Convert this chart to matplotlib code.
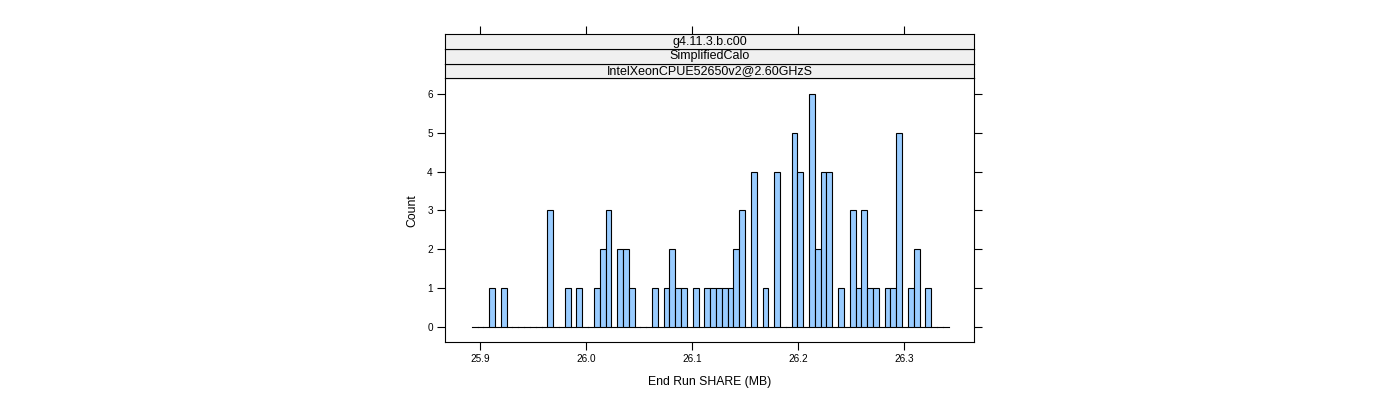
import numpy as np
import matplotlib
matplotlib.use("Agg")
import matplotlib.pyplot as plt

plt.rcParams['font.family'] = ['Liberation Sans', 'DejaVu Sans']

# Histogram data (bin breaks and counts)
break_start = 25.8919
break_end = 26.3421
n_bins = 82
nonzero_bins = [3, 5, 13, 16, 18, 21, 22, 23, 25, 26, 27, 31, 33, 34, 35, 36, 38,
                40, 41, 42, 43, 44, 45, 46, 48, 50, 52, 55, 56, 58, 59, 60, 61, 63,
                65, 66, 67, 68, 69, 71, 72, 73, 75, 76, 78]
nonzero_counts = [1, 1, 3, 1, 1, 1, 2, 3, 2, 2, 1, 1, 1, 2, 1, 1, 1,
                  1, 1, 1, 1, 1, 2, 3, 4, 1, 4, 5, 4, 6, 2, 4, 4, 1,
                  3, 1, 3, 1, 1, 1, 1, 5, 1, 2, 1]
strip_labels = ["g4.11.3.b.c00", "SimplifiedCalo", "IntelXeonCPUE52650v2@2.60GHzS"]
x_ticks = [25.9, 26.0, 26.1, 26.2, 26.3]
x_tick_labels = ["25.9", "26.0", "26.1", "26.2", "26.3"]
y_ticks = [0, 1, 2, 3, 4, 5, 6]
x_label = "End Run SHARE (MB)"
y_label = "Count"

counts = np.zeros(n_bins)
counts[nonzero_bins] = nonzero_counts
edges = np.linspace(break_start, break_end, n_bins + 1)

W, H = 1400, 400
fig = plt.figure(figsize=(W / 100, H / 100), dpi=100)

left, right = 445.3, 974.0
bottom, top = 342.0, 78.3
ax = fig.add_axes([left / W, 1 - bottom / H, (right - left) / W, (bottom - top) / H])

ax.bar(edges[:-1], counts, width=np.diff(edges), align='edge',
       color='#99CCFF', edgecolor='black', linewidth=0.8, capstyle='projecting')

ax.set_xlim(25.8669, 26.3661)
ax.set_ylim(-0.395, 6.41)
ax.set_xticks(x_ticks)
ax.set_xticklabels(x_tick_labels)
ax.set_yticks(y_ticks)
ax.tick_params(axis='both', direction='out', length=5.5, width=0.8,
               labelsize=7.2, color='black', pad=3.5)
ax.tick_params(axis='y', right=True, labelright=False)
for s in ax.spines.values():
    s.set_linewidth(0.8)
ax.set_xlabel(x_label, fontsize=8.8, labelpad=8)
ax.set_ylabel(y_label, fontsize=8.8, labelpad=6)

# Strips
strip_h = 14.67
for i, lab in enumerate(reversed(strip_labels)):
    y_bot = top - i * strip_h
    sax = fig.add_axes([left / W, 1 - y_bot / H, (right - left) / W, strip_h / H],
                       sharex=ax)
    sax.set_facecolor('#F0F0F0')
    sax.set_yticks([])
    sax.tick_params(axis='x', bottom=False, labelbottom=False)
    if i == len(strip_labels) - 1:
        sax.tick_params(axis='x', top=True, labeltop=False, direction='out',
                        length=5.5, width=0.8)
    for s in sax.spines.values():
        s.set_linewidth(0.8)
    sax.text(0.5, 0.5, lab, transform=sax.transAxes, ha='center', va='center',
             fontsize=9)

fig.savefig("out.png", dpi=100)
